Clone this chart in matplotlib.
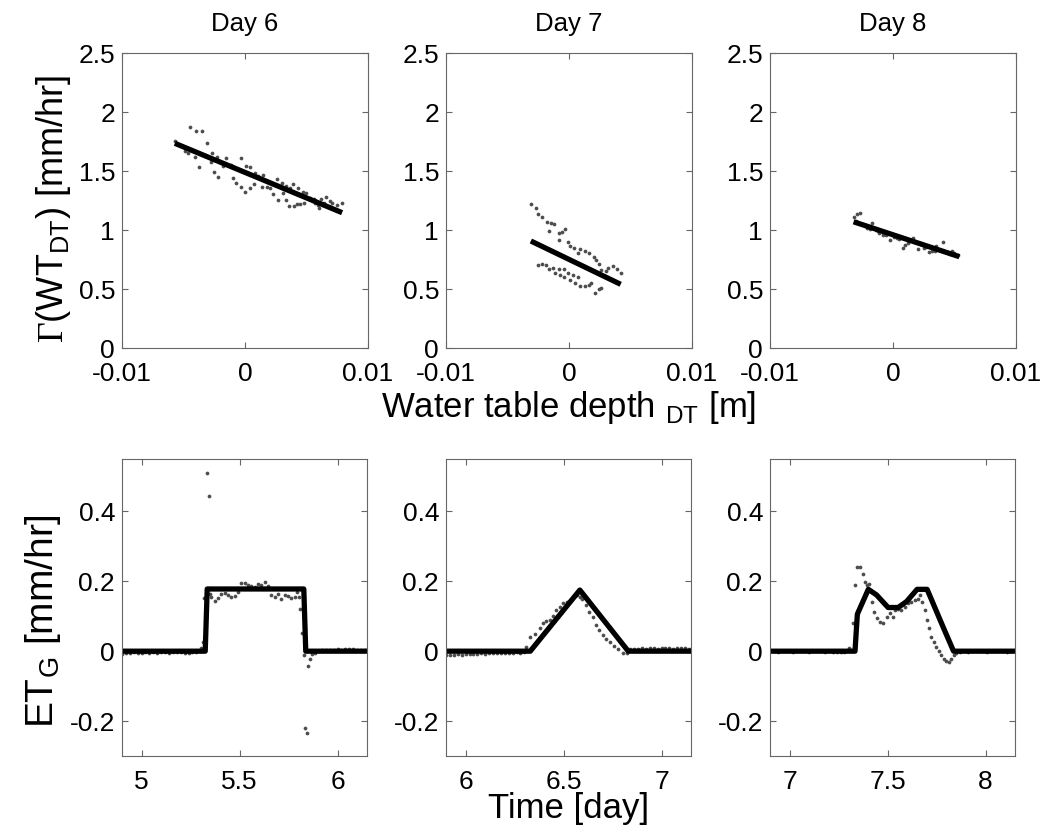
import numpy as np #import functions
import matplotlib
matplotlib.use("Agg")
import matplotlib.pyplot as plt

plt.rcParams['font.family'] = ['Liberation Sans', 'DejaVu Sans']
plt.rcParams['mathtext.fontset'] = 'custom'
plt.rcParams['mathtext.rm'] = 'Liberation Serif'
plt.rcParams['mathtext.sf'] = 'Liberation Sans'

days = ["Day 6", "Day 7", "Day 8"]

# top row: gamma vs water table depth (scatter + fitted line)
wt6 = [-0.0057, -0.0045, -0.0040, -0.0035, -0.0049, -0.0046, -0.0041, -0.0037, -0.0031, -0.0027,
       -0.0028, -0.0023, -0.0025, -0.0022, -0.0018, -0.0015, -0.0011, -0.0010, -0.0007, -0.0003,
       -0.0003, 0.0000, 0.0001, 0.0004, 0.0004, 0.0007, 0.0008, 0.0011, 0.0014, 0.0015,
       0.0018, 0.0020, 0.0023, 0.0026, 0.0027, 0.0030, 0.0031, 0.0033, 0.0033, 0.0036,
       0.0037, 0.0039, 0.0040, 0.0042, 0.0043, 0.0045, 0.0047, 0.0048, 0.0050, 0.0053,
       0.0056, 0.0057, 0.0059, 0.0060, 0.0062, 0.0064, 0.0066, 0.0069, 0.0071, 0.0075, 0.0079]
g6 = [1.757, 1.876, 1.842, 1.842, 1.672, 1.655, 1.616, 1.537, 1.735, 1.655,
      1.579, 1.616, 1.494, 1.452, 1.542, 1.607, 1.551, 1.438, 1.395, 1.607,
      1.367, 1.325, 1.542, 1.535, 1.353, 1.390, 1.486, 1.460, 1.367, 1.470,
      1.367, 1.353, 1.305, 1.430, 1.254, 1.400, 1.310, 1.375, 1.254, 1.203,
      1.353, 1.390, 1.203, 1.220, 1.353, 1.220, 1.325, 1.226, 1.316, 1.270,
      1.260, 1.226, 1.210, 1.184, 1.260, 1.226, 1.277, 1.250, 1.226, 1.210, 1.226]
fitx6 = [-0.0057, 0.0079]
fity6 = [1.735, 1.147]

wt7 = [-0.0031, -0.0027, -0.0025, -0.0022, -0.0018, -0.0015, -0.0012, -0.0016, -0.0008, -0.0006,
       -0.0003, -0.0008, -0.0001, 0.0001, 0.0004, 0.0007, 0.0009, 0.0013, 0.0016, 0.0020,
       0.0022, 0.0024, 0.0026, 0.0030, 0.0032, 0.0036, 0.0039, 0.0042,
       -0.0025, -0.0022, -0.0019, -0.0016, -0.0013, -0.0011, -0.0008, -0.0007, -0.0004, -0.0004,
       -0.0001, 0.0001, 0.0003, 0.0005, 0.0007, 0.0009, 0.0013, 0.0016, 0.0018, 0.0021,
       0.0024, 0.0026]
g7 = [1.220, 1.184, 1.140, 1.113, 1.070, 1.062, 1.050, 0.994, 0.972, 0.986,
      1.006, 0.915, 0.900, 0.864, 0.845, 0.802, 0.836, 0.825, 0.802, 0.775,
      0.743, 0.715, 0.664, 0.650, 0.678, 0.698, 0.669, 0.636,
      0.703, 0.712, 0.703, 0.669, 0.678, 0.636, 0.669, 0.619, 0.599, 0.669,
      0.636, 0.580, 0.619, 0.553, 0.600, 0.525, 0.525, 0.534, 0.553, 0.469,
      0.497, 0.506]
fitx7 = [-0.0031, 0.0042]
fity7 = [0.907, 0.540]

wt8 = [-0.0032, -0.0029, -0.0027, -0.0025, -0.0021, -0.0017, -0.0014, -0.0011, -0.0008, -0.0005,
       -0.0002, 0.0001, 0.0003, 0.0008, 0.0010, 0.0013, 0.0016, 0.0018, 0.0020, 0.0023,
       0.0027, 0.0029, 0.0032, 0.0035, 0.0038, 0.0041, 0.0044, 0.0048, 0.0050, 0.0053,
       -0.0030, -0.0023, -0.0019, -0.0012, -0.0006, 0.0005, 0.0012, 0.0025, 0.0034, 0.0046]
g8 = [1.107, 1.140, 1.146, 1.054, 1.020, 1.060, 0.998, 0.976, 0.956, 0.970,
      0.915, 0.943, 0.930, 0.845, 0.872, 0.915, 0.930, 0.900, 0.836, 0.880,
      0.858, 0.816, 0.825, 0.864, 0.830, 0.900, 0.816, 0.825, 0.802, 0.788,
      1.080, 1.040, 1.010, 0.990, 0.960, 0.920, 0.890, 0.850, 0.820, 0.800]
fitx8 = [-0.0032, 0.0054]
fity8 = [1.070, 0.774]

# bottom row: ET_G vs time (scatter + model line)
t6 = [4.90, 4.92, 4.94, 4.96, 4.98, 5.00, 5.02, 5.04, 5.06, 5.08, 5.10, 5.12, 5.14, 5.16, 5.18,
      5.20, 5.22, 5.24, 5.26, 5.28, 5.30, 5.305, 5.313, 5.318, 5.332, 5.343,
      5.348, 5.355, 5.374, 5.391, 5.408, 5.425, 5.442, 5.459, 5.476, 5.493, 5.510, 5.527, 5.544,
      5.561, 5.578, 5.595, 5.612, 5.629, 5.646, 5.663, 5.680, 5.697, 5.714, 5.731, 5.748, 5.765,
      5.782, 5.794, 5.804, 5.811, 5.821, 5.828, 5.833, 5.845, 5.850, 5.862, 5.872, 5.884,
      5.90, 5.92, 5.94, 5.96, 5.98, 6.00, 6.02, 6.04, 6.06, 6.08, 6.10, 6.12, 6.14]
e6 = [-0.008, -0.004, -0.005, -0.003, -0.006, -0.004, -0.003, -0.005, -0.002, -0.004, -0.003, -0.002,
      -0.004, -0.003, -0.002, -0.003, -0.004, -0.005, -0.003, -0.002, 0.001, 0.010, 0.027, 0.151,
      0.510, 0.445,
      0.164, 0.156, 0.144, 0.151, 0.164, 0.166, 0.161, 0.156, 0.158, 0.170, 0.194, 0.196, 0.190,
      0.187, 0.185, 0.192, 0.190, 0.199, 0.187, 0.161, 0.156, 0.164, 0.149, 0.161, 0.158, 0.151,
      0.156, 0.170, 0.156, 0.122, 0.051, -0.011, -0.219, -0.234, -0.042, -0.021, -0.009, -0.005,
      0.001, 0.003, 0.002, 0.004, 0.003, 0.005, 0.004, 0.006, 0.007, 0.005, 0.004, 0.003, 0.004]
mt6 = [4.90, 5.325, 5.335, 5.828, 5.838, 6.15]
me6 = [0.0, 0.0, 0.178, 0.178, 0.0, 0.0]

t7 = [5.90, 5.92, 5.94, 5.96, 5.98, 6.00, 6.02, 6.04, 6.06, 6.08, 6.10, 6.12, 6.14, 6.16, 6.18,
      6.20, 6.22, 6.24, 6.26, 6.28, 6.30,
      6.307, 6.327, 6.353, 6.378, 6.395, 6.412, 6.429, 6.446, 6.463, 6.480, 6.497, 6.515, 6.531,
      6.548, 6.566, 6.583, 6.596, 6.613, 6.630, 6.648, 6.664, 6.681, 6.702, 6.719, 6.736, 6.756,
      6.778, 6.804, 6.824, 6.838,
      6.86, 6.88, 6.90, 6.92, 6.94, 6.96, 6.98, 7.00, 7.02, 7.04, 7.06, 7.08, 7.10, 7.12, 7.14]
e7 = [-0.012, -0.010, -0.011, -0.009, -0.010, -0.008, -0.009, -0.007, -0.008, -0.006, -0.007, -0.006,
      -0.005, -0.006, -0.005, -0.004, -0.005, -0.004, -0.003, -0.004, -0.003,
      0.012, 0.041, 0.049, 0.065, 0.081, 0.086, 0.089, 0.100, 0.118, 0.127, 0.139, 0.142, 0.146,
      0.154, 0.161, 0.156, 0.149, 0.132, 0.113, 0.098, 0.075, 0.060, 0.046, 0.036, 0.027, 0.014,
      0.005, -0.005, -0.006, 0.005,
      0.006, 0.007, 0.008, 0.006, 0.009, 0.008, 0.007, 0.010, 0.008, 0.009, 0.007, 0.008, 0.009, 0.008, 0.007]
mt7 = [5.90, 6.33, 6.583, 6.83, 7.15]
me7 = [0.0, 0.0, 0.175, 0.0, 0.0]

t8 = [6.90, 6.92, 6.94, 6.96, 6.98, 7.00, 7.02, 7.04, 7.06, 7.08, 7.10, 7.12, 7.14, 7.16, 7.18,
      7.20, 7.22, 7.24, 7.26, 7.28, 7.29,
      7.305, 7.325, 7.334, 7.346, 7.359, 7.373, 7.385, 7.397, 7.407, 7.419, 7.431, 7.444, 7.461,
      7.478, 7.495, 7.512, 7.526, 7.537, 7.554, 7.571, 7.588, 7.605, 7.622, 7.639, 7.656, 7.668,
      7.678, 7.690, 7.702, 7.712, 7.724, 7.736, 7.749, 7.763, 7.775, 7.786, 7.800, 7.813, 7.826,
      7.837, 7.851,
      7.87, 7.89, 7.91, 7.93, 7.95, 7.97, 7.99, 8.01, 8.03, 8.05, 8.07, 8.09, 8.11, 8.13, 8.15]
e8 = [0.000, 0.001, -0.001, 0.000, 0.001, 0.000, -0.001, 0.001, 0.000, 0.000, -0.001, 0.000,
      0.001, 0.000, -0.001, 0.000, -0.002, -0.001, -0.003, -0.002, 0.001,
      0.010, 0.081, 0.188, 0.242, 0.242, 0.221, 0.199, 0.188, 0.193, 0.142, 0.113, 0.094, 0.084,
      0.081, 0.098, 0.108, 0.098, 0.118, 0.122, 0.118, 0.127, 0.137, 0.142, 0.146, 0.149, 0.161,
      0.142, 0.118, 0.089, 0.065, 0.041, 0.027, 0.012, 0.001, -0.011, -0.021, -0.028, -0.031, -0.021,
      -0.011, -0.005,
      -0.002, 0.000, -0.001, 0.000, 0.001, 0.000, 0.000, -0.001, 0.000, 0.001, 0.000, 0.000, -0.001, 0.000, 0.000]
mt8 = [6.90, 7.334, 7.346, 7.402, 7.444, 7.503, 7.554, 7.597, 7.651, 7.702, 7.783, 7.837, 8.15]
me8 = [0.0, 0.0, 0.106, 0.177, 0.161, 0.125, 0.125, 0.142, 0.177, 0.177, 0.070, 0.0, 0.0]

top_data = [(wt6, g6, fitx6, fity6), (wt7, g7, fitx7, fity7), (wt8, g8, fitx8, fity8)]
bot_data = [(t6, e6, mt6, me6), (t7, e7, mt7, me7), (t8, e8, mt8, me8)]
xlims_bot = [(4.9, 6.15), (5.9, 7.15), (6.9, 8.15)]
xticks_bot = [[5, 5.5, 6], [6, 6.5, 7], [7, 7.5, 8]]

dotcol = "#4d4d4d"
lefts = [0.1167, 0.4268, 0.7368]

def style(ax): #matlab-like box with inward ticks
    for s in ax.spines.values():
        s.set_color("#666666")
        s.set_linewidth(0.8)
    ax.tick_params(direction="in", top=True, right=True, length=4, width=0.8,
                   color="#666666", labelsize=19, labelcolor="black")
    ax.tick_params(axis="x", pad=10)
    ax.tick_params(axis="y", pad=5)

fig = plt.figure(figsize=(10.45, 8.35), dpi=100)

for i in range(3):
    ax = fig.add_axes([lefts[i], 0.5832, 0.2354, 0.3533])
    x, y, fx, fy = top_data[i]
    ax.plot(x, y, "o", color=dotcol, markersize=2.7, markeredgewidth=0)
    ax.plot(fx, fy, "k-", linewidth=3.8, solid_capstyle="butt")
    ax.set_xlim(-0.01, 0.01)
    ax.set_ylim(0, 2.5)
    ax.set_xticks([-0.01, 0, 0.01])
    ax.set_xticklabels(["-0.01", "0", "0.01"])
    ax.set_yticks([0, 0.5, 1, 1.5, 2, 2.5])
    ax.set_yticklabels(["0", "0.5", "1", "1.5", "2", "2.5"])
    ax.set_title(days[i], fontsize=18.5, pad=16)
    style(ax)
    if i == 0:
        ax.set_ylabel(r"$\Gamma$(WT$_{\mathsf{DT}}$) [mm/hr]", fontsize=26)
        ax.yaxis.set_label_coords(-0.2, 0.47)
    if i == 1:
        ax.set_xlabel(r"Water table depth $_{\mathsf{DT}}$ [m]", fontsize=25)
        ax.xaxis.set_label_coords(0.5, -0.14)

for i in range(3):
    ax = fig.add_axes([lefts[i], 0.0946, 0.2344, 0.3557])
    t, e, mt, me = bot_data[i]
    ax.plot(t, e, "o", color=dotcol, markersize=2.7, markeredgewidth=0)
    ax.plot(mt, me, "k-", linewidth=3.8)
    ax.set_xlim(xlims_bot[i])
    ax.set_ylim(-0.3, 0.55)
    ax.set_xticks(xticks_bot[i])
    ax.set_xticklabels([str(v) for v in xticks_bot[i]])
    ax.set_yticks([-0.2, 0, 0.2, 0.4])
    ax.set_yticklabels(["-0.2", "0", "0.2", "0.4"])
    style(ax)
    if i == 0:
        ax.set_ylabel(r"ET$_{\mathsf{G}}$ [mm/hr]", fontsize=28)
        ax.yaxis.set_label_coords(-0.24, 0.455)
    if i == 1:
        ax.set_xlabel("Time [day]", fontsize=25)
        ax.xaxis.set_label_coords(0.5, -0.12)

fig.savefig("out.png", dpi=100)
